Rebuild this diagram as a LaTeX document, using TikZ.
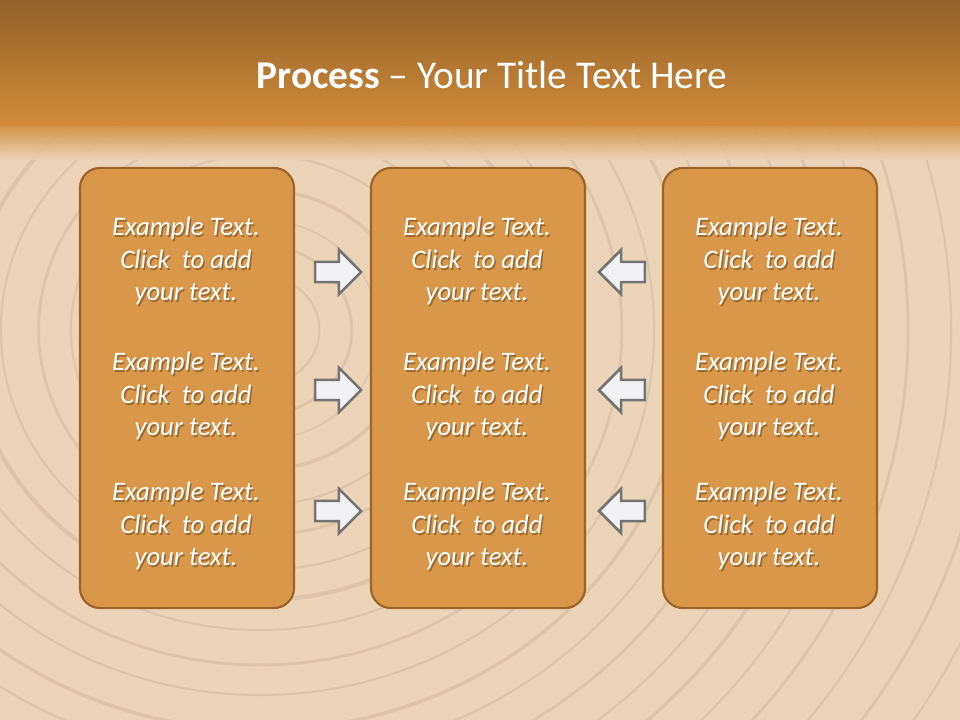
\documentclass[tikz,border=0pt]{standalone}
\usepackage{fontspec}
\setmainfont{Carlito}
\usetikzlibrary{positioning,shapes.arrows}
\definecolor{woodbg}{RGB}{236,212,184}
\definecolor{woodring}{RGB}{196,170,146}
\definecolor{bartop}{RGB}{146,97,42}
\definecolor{barbot}{RGB}{209,140,58}
\definecolor{panelfill}{RGB}{217,151,74}
\definecolor{paneledge}{RGB}{158,98,38}
\definecolor{arrowfill}{RGB}{242,242,244}
\definecolor{arrowedge}{RGB}{115,115,115}
\tikzset{
  panel/.style={draw=paneledge,line width=1.5pt,fill=panelfill,rounded corners=0.5cm,
    minimum width=5.35cm,minimum height=11cm},
  boxtext/.style={text=white,font=\fontsize{19}{23}\selectfont\itshape,align=center},
  boxshadow/.style={boxtext,text=black!70!brown,opacity=0.4},
  flow/.style={single arrow,draw=arrowedge,line width=1.8pt,fill=arrowfill,
    minimum height=1.15cm,minimum width=0pt,single arrow head extend=0.3cm,
    inner xsep=0pt,inner ysep=0.22cm}
}
\begin{document}
\begin{tikzpicture}[x=0.025cm,y=-0.025cm]
      \useasboundingbox (0,0) rectangle (960,720);
      % wood background
      \fill[woodbg](0,0) rectangle (960,720);
      \begin{scope}
        \clip (0,125) rectangle (960,720);
        \foreach \r/\w in {30/2,55/1.5,85/2,110/1,140/2.5,175/1.5,205/2,240/1.5,270/3,300/1.5,335/2,365/1.5,400/2.5,430/1.5,465/2,500/1.5,530/2.5,565/1.5,600/2,640/1.5,680/2,720/1.5,760/2,800/1.5}
          \draw[woodring,opacity=0.35,line width=\w pt](260,330) ellipse ({\r*1.08} and \r);
      \end{scope}
      % title bar
      \shade[top color=bartop,bottom color=barbot](0,0) rectangle (960,126);
      \shade[top color=barbot,bottom color=woodbg,opacity=0.9](0,125) rectangle (960,160);
      \node[text=white,font=\fontsize{28}{32}\selectfont](title) at (492,75){\textbf{Process} -- Your Title Text Here};
      % panels
      \node[panel](left) at (187,388){};
      \node[panel](mid) at (478,388){};
      \node[panel](right) at (770,388){};
      \foreach \x in {186,477,769}
        \foreach \y in {261,396,526}{
          \node[boxshadow] at (\x+1.5,\y+2){Example Text.\\Click\ \ to add\\your text.};
          \node[boxtext] at (\x,\y){Example Text.\\Click\ \ to add\\your text.};
        }
      % arrows
      \foreach \y [count=\i] in {272,390,511}{
        \node[flow](ra\i) at (333,\y){};
        \node[flow,shape border rotate=180](la\i) at (627,\y){};
      }
    \end{tikzpicture}
\end{document}
